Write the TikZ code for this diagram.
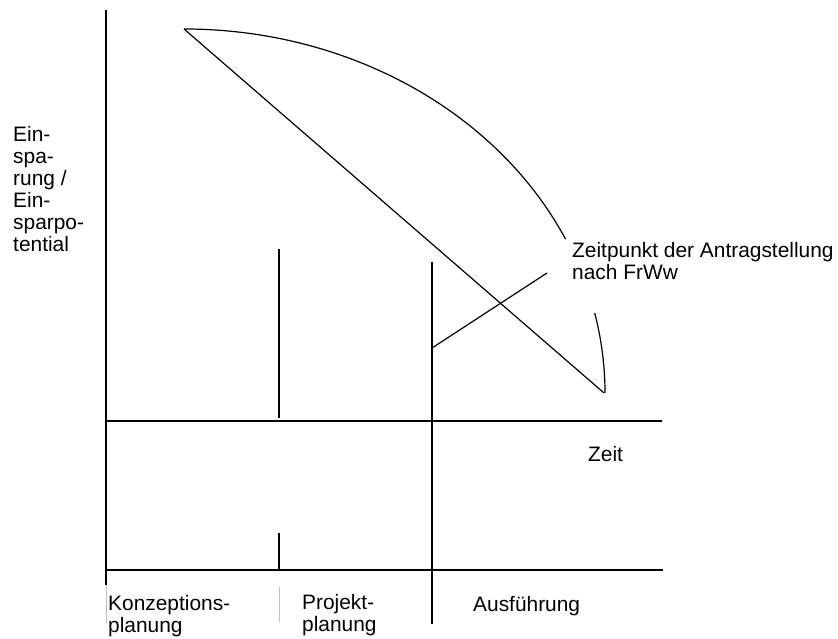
\documentclass[tikz,border=0pt]{standalone}
\usepackage{fontspec}
\setmainfont{Liberation Sans}
\begin{document}
\begin{tikzpicture}[x=1pt,y=1pt,
  ln/.style={line width=1.2pt,black},
  faint/.style={line width=0.4pt,black!25},
  lbl/.style={inner sep=0pt,font=\fontsize{20.9}{22}\selectfont,align=left,anchor=base west}]
\useasboundingbox (0,0) rectangle (838,639);
% coordinates
\coordinate (ytop) at (106,629);
\coordinate (ybot) at (106,54);
\coordinate (ygb) at (106,16);
\coordinate (h1l) at (106,218);
\coordinate (h1r) at (662,218);
\coordinate (h2l) at (106,69);
\coordinate (h2r) at (663,69);
\coordinate (pa) at (279,390);
\coordinate (pb) at (279,221);
\coordinate (pc) at (279,106);
\coordinate (pd) at (279,69);
\coordinate (pe) at (279,52);
\coordinate (pf) at (279,17);
\coordinate (aa) at (432,377);
\coordinate (ab) at (432,15);
\coordinate (ds) at (184,610);
\coordinate (de) at (604,246);
\coordinate (la) at (432,291);
\coordinate (lb) at (547,366);
\coordinate (ec) at (184,246);
% axes and grid
\draw[ln] (ytop) -- (ybot);
\draw[faint] (ybot) -- (ygb);
\draw[ln] (h1l) -- (h1r);
\draw[ln] (h2l) -- (h2r);
\draw[ln] (pa) -- (pb);
\draw[ln] (pc) -- (pd);
\draw[faint] (pe) -- (pf);
\draw[ln] (aa) -- (ab);
% diagonal
\draw[ln] (ds) -- (de);
% curved arc (quarter ellipse with gap)
\draw[ln] (ds) arc[start angle=90, end angle=25, x radius=421, y radius=364];
\draw[ln] ([shift={(12.7:421 and 364)}]ec) arc[start angle=12.7, end angle=0, x radius=421, y radius=364];
% leader
\draw[ln] (la) -- (lb);
% labels (base = baseline of last line)
\node[lbl] (ein) at (13,387) {Ein-\\spa-\\rung /\\Ein-\\sparpo-\\tential};
\node[lbl] (zp) at (572,359) {Zeitpunkt der Antragstellung\\nach FrWw};
\node[lbl] (zeit) at (588,177) {Zeit};
\node[lbl] (kp) at (108,6) {Konzeptions-\\planung};
\node[lbl] (pp) at (302,7) {Projekt-\\planung};
\node[lbl] (af) at (473,27) {Ausführung};
\end{tikzpicture}
\end{document}
